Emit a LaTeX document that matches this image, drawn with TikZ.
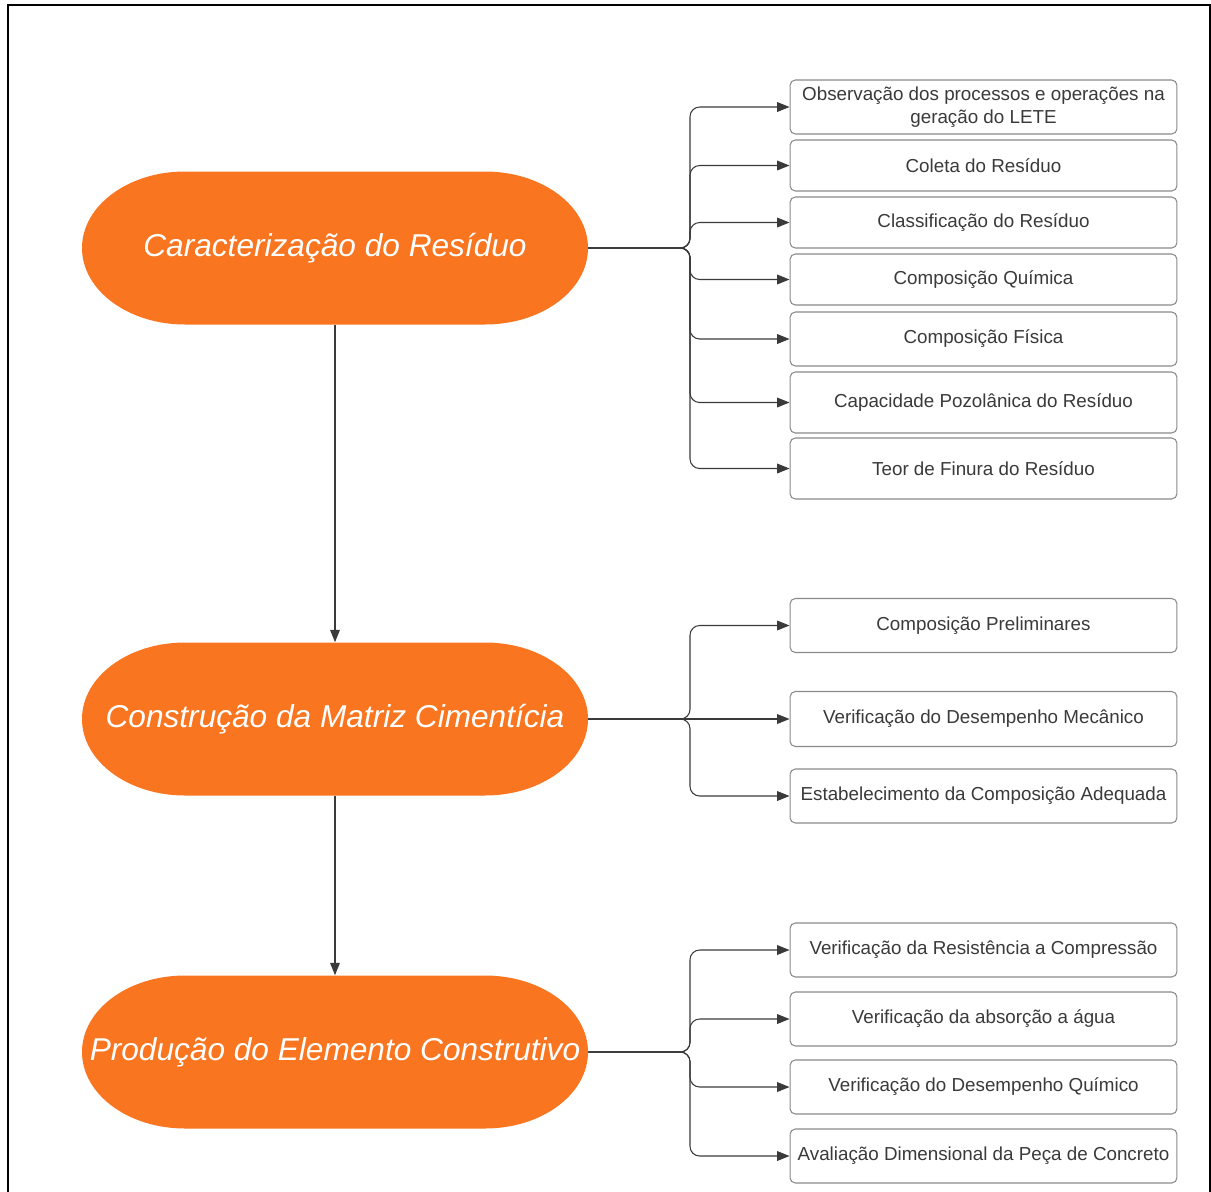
\documentclass[tikz,border=0pt]{standalone}
\usepackage{fontspec}
\setmainfont{Liberation Sans}
\usetikzlibrary{arrows.meta}
\definecolor{pillorange}{HTML}{F97520}
\definecolor{linegray}{HTML}{3A3A3A}
\definecolor{boxgray}{HTML}{8A8A8A}
\begin{document}
\begin{tikzpicture}[x=0.02cm,y=-0.02cm,
  pilltext/.style={minimum width=10.12cm,minimum height=3.06cm,inner sep=0pt,text=white,font=\fontsize{18}{21}\selectfont\itshape},
  stepbox/.style={draw=boxgray,line width=0.6pt,rounded corners=3pt,minimum width=7.74cm,inner sep=0pt,text=linegray,font=\fontsize{10.7}{13}\selectfont,align=center,fill=white},
  conn/.style={draw=linegray,line width=0.6pt,rounded corners=5.5pt,-{Triangle[length=7pt,width=5.5pt]}},
  pill/.pic={\fill[pillorange] (-150,-76.5) -- (150,-76.5) arc[start angle=-90,end angle=90,x radius=103,y radius=76.5] -- (-150,76.5) arc[start angle=90,end angle=270,x radius=103,y radius=76.5] -- cycle;}
]
\useasboundingbox (0,0) rectangle (1211,1191);
\draw[line width=1.1pt] (8,1195) -- (8,5) -- (1210,5) -- (1210,1195);

% pills
\pic at (335,248) {pill};
\node[pilltext] (c1) at (335,248) {Caracterização do Resíduo};
\pic at (335,719) {pill};
\node[pilltext] (c2) at (335,719) {Construção da Matriz Cimentícia};
\pic at (335,1052) {pill};
\node[pilltext] (c3) at (335,1052) {Produção do Elemento Construtivo};

% group 1
\node[stepbox,minimum height=1.08cm] (a1) at (983.5,107) {Observação dos processos e operações na\\geração do LETE};
\node[stepbox,minimum height=1.02cm] (a2) at (983.5,165.5) {Coleta do Resíduo};
\node[stepbox,minimum height=1.02cm] (a3) at (983.5,222.5) {Classificação do Resíduo};
\node[stepbox,minimum height=1.02cm] (a4) at (983.5,279.5) {Composição Química};
\node[stepbox,minimum height=1.08cm] (a5) at (983.5,339) {Composição Física};
\node[stepbox,minimum height=1.22cm] (a6) at (983.5,402.5) {Capacidade Pozolânica do Resíduo};
\node[stepbox,minimum height=1.22cm] (a7) at (983.5,468.5) {Teor de Finura do Resíduo};

% group 2
\node[stepbox,minimum height=1.08cm] (b1) at (983.5,625.5) {Composição Preliminares};
\node[stepbox,minimum height=1.1cm] (b2) at (983.5,719) {Verificação do Desempenho Mecânico};
\node[stepbox,minimum height=1.08cm] (b3) at (983.5,796) {Estabelecimento da Composição Adequada};

% group 3
\node[stepbox,minimum height=1.08cm] (d1) at (983.5,950) {Verificação da Resistência a Compressão};
\node[stepbox,minimum height=1.08cm] (d2) at (983.5,1019) {Verificação da absorção a água};
\node[stepbox,minimum height=1.08cm] (d3) at (983.5,1087) {Verificação do Desempenho Químico};
\node[stepbox,minimum height=1.08cm] (d4) at (983.5,1156) {Avaliação Dimensional da Peça de Concreto};

% junctions
\coordinate (j1) at (690,248);
\coordinate (j2) at (690,719);
\coordinate (j3) at (690,1052);

% vertical flow
\draw[conn] (c1.south) -- (c2.north);
\draw[conn] (c2.south) -- (c3.north);

% fan-outs
\foreach \t in {a1,a2,a3,a4,a5,a6,a7} \draw[conn] (c1.east) -- (j1) |- (\t.west);
\draw[conn] (c2.east) -- (j2) |- (b1.west);
\draw[conn] (c2.east) -- (b2.west);
\draw[conn] (c2.east) -- (j2) |- (b3.west);
\foreach \t in {d1,d2,d3,d4} \draw[conn] (c3.east) -- (j3) |- (\t.west);
\end{tikzpicture}
\end{document}
